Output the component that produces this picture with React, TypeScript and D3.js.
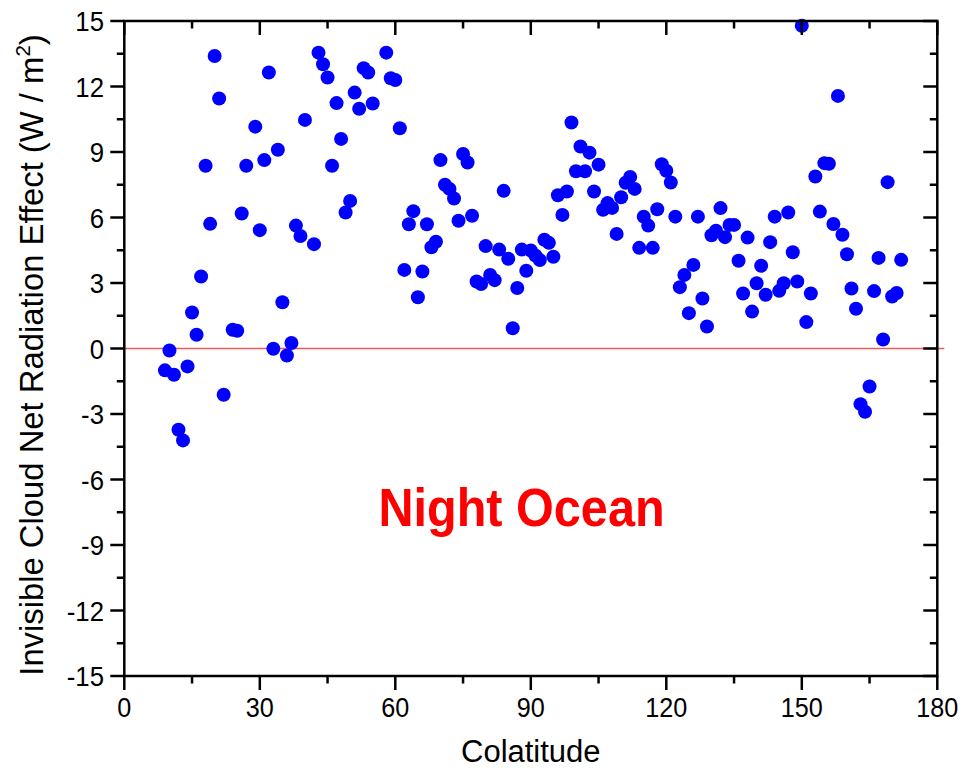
import React from "react";
import * as d3 from "d3";

// Colatitude (degrees) of each zonal band
const colatitude = [
  9, 10, 11, 12, 13, 14, 15, 16, 17, 18, 19, 20, 21, 22, 24, 25, 26, 27, 29, 30,
  31, 32, 33, 34, 35, 36, 37, 38, 39, 40, 42, 43, 44, 45, 46, 47, 48, 49, 50, 51,
  52, 53, 54, 55, 58, 59, 60, 61, 62, 63, 64, 65, 66, 67, 68, 69, 70, 71, 72, 73,
  74, 75, 76, 77, 78, 79, 80, 81, 82, 83, 84, 85, 86, 87, 88, 89, 90, 91, 92, 93,
  94, 95, 96, 97, 98, 99, 100, 101, 102, 103, 104, 105, 106, 107, 108, 109, 110,
  111, 112, 113, 114, 115, 116, 117, 118, 119, 120, 121, 122, 123, 124, 125, 126,
  127, 128, 129, 130, 131, 132, 133, 134, 135, 136, 137, 138, 139, 140, 141, 142,
  143, 144, 145, 146, 147, 148, 149, 150, 151, 152, 153, 154, 155, 156, 157, 158,
  159, 160, 161, 162, 163, 164, 165, 166, 167, 168, 169, 170, 171, 172,
];

// Invisible cloud net radiation effect (W / m^2) for each band
const netEffect = [
  -1.0, -0.09, -1.2, -3.72, -4.21, -0.82, 1.65, 0.63, 3.3, 8.37, 5.71, 13.4, 11.45, -2.12, 0.86, 0.81, 6.18, 8.37, 10.16, 5.42,
  8.63, 12.64, -0.01, 9.1, 2.12, -0.32, 0.25, 5.63, 5.15, 10.47, 4.78, 13.55, 13.02, 12.41, 8.37, 11.24, 9.6, 6.23, 6.76, 11.72,
  10.98, 12.84, 12.64, 11.22, 13.55, 12.38, 12.3, 10.09, 3.6, 5.69, 6.29, 2.35, 3.53, 5.69, 4.64, 4.89, 8.63, 7.5, 7.31, 6.87,
  5.85, 8.91, 8.52, 6.08, 3.07, 2.95, 4.69, 3.37, 3.13, 4.53, 7.22, 4.11, 0.93, 2.77, 4.53, 3.56, 4.49, 4.26, 4.05, 4.98,
  4.84, 4.2, 7.02, 6.12, 7.19, 10.35, 8.12, 9.25, 8.12, 8.97, 7.19, 8.42, 6.35, 6.66, 6.44, 5.25, 6.93,
  7.59, 7.86, 7.31, 4.61, 6.04, 5.63, 4.61, 6.38, 8.44, 8.14, 7.6, 6.04, 2.81, 3.37, 1.62, 3.83,
  6.04, 2.29, 1.01, 5.19, 5.39, 6.43, 5.1, 5.66, 5.66, 4.02, 2.52, 5.08, 1.69, 2.99, 3.79, 2.46,
  4.87, 6.04, 2.64, 2.99, 6.23, 4.41, 3.07, 14.78, 1.21, 2.52, 7.88, 6.27, 8.49, 8.46, 5.7, 11.57,
  5.21, 4.32, 2.75, 1.82, -2.55, -2.9, -1.74, 2.63, 4.15, 0.41, 7.62, 2.38, 2.54, 4.06,
];

const xTickValues = [0, 30, 60, 90, 120, 150, 180];
const xMinorValues = [15, 45, 75, 105, 135, 165];
const yTickValues = [-15, -12, -9, -6, -3, 0, 3, 6, 9, 12, 15];
const yMinorValues = [-13.5, -10.5, -7.5, -4.5, -1.5, 1.5, 4.5, 7.5, 10.5, 13.5];

const W = 964;
const H = 773;
const left = 124.3;
const right = 937.3;
const top = 21;
const bottom = 676;

const FONT = "Liberation Sans, Arial, Helvetica, sans-serif";

export default function App() {
  const x = d3.scaleLinear().domain([0, 180]).range([left, right]);
  const y = d3.scaleLinear().domain([-15, 15]).range([bottom, top]);

  const points = colatitude.map((c, i) => ({ c, v: netEffect[i] }));
  const major = 14;
  const minor = 7.5;
  const axisW = 2.5;

  return (
    <svg
      width={W}
      height={H}
      style={{ position: "absolute", left: 0, top: 0, background: "#fff" }}
      fontFamily={FONT}
    >
      <rect x={0} y={0} width={W} height={H} fill="#fff" />

      {/* zero reference line */}
      <line x1={left} x2={right + 7} y1={y(0)} y2={y(0)} stroke="#f25a5a" strokeWidth={1.6} />

      {/* data points */}
      {points.map((p, i) => (
        <circle key={i} cx={x(p.c)} cy={y(p.v)} r={7} fill="#0000ff" />
      ))}

      {/* frame */}
      <rect
        x={left}
        y={top}
        width={right - left}
        height={bottom - top}
        fill="none"
        stroke="#000"
        strokeWidth={axisW}
      />

      {/* x ticks: outward on bottom, inward on top */}
      {xTickValues.map((t) => (
        <g key={"xt" + t}>
          <line x1={x(t)} x2={x(t)} y1={bottom} y2={bottom + major} stroke="#000" strokeWidth={axisW} />
          <line x1={x(t)} x2={x(t)} y1={top} y2={top + major} stroke="#000" strokeWidth={axisW} />
          <text
            transform={`translate(${x(t)},${717}) scale(0.9,1)`}
            textAnchor="middle"
            fontSize={28}
            fill="#000"
          >
            {t}
          </text>
        </g>
      ))}
      {xMinorValues.map((t) => (
        <g key={"xm" + t}>
          <line x1={x(t)} x2={x(t)} y1={bottom} y2={bottom + minor} stroke="#000" strokeWidth={axisW} />
          <line x1={x(t)} x2={x(t)} y1={top} y2={top + minor} stroke="#000" strokeWidth={axisW} />
        </g>
      ))}

      {/* y ticks: outward on left, inward on right */}
      {yTickValues.map((t) => (
        <g key={"yt" + t}>
          <line x1={left - major} x2={left} y1={y(t)} y2={y(t)} stroke="#000" strokeWidth={axisW} />
          <line x1={right - major} x2={right} y1={y(t)} y2={y(t)} stroke="#000" strokeWidth={axisW} />
          <text
            transform={`translate(${104},${y(t) + 10}) scale(0.92,1)`}
            textAnchor="end"
            fontSize={28}
            fill="#000"
          >
            {t}
          </text>
        </g>
      ))}
      {yMinorValues.map((t) => (
        <g key={"ym" + t}>
          <line x1={left - minor} x2={left} y1={y(t)} y2={y(t)} stroke="#000" strokeWidth={axisW} />
          <line x1={right - minor} x2={right} y1={y(t)} y2={y(t)} stroke="#000" strokeWidth={axisW} />
        </g>
      ))}

      {/* axis titles */}
      <text x={(left + right) / 2} y={762} textAnchor="middle" fontSize={31} fill="#000">
        Colatitude
      </text>
      <text
        transform={`translate(43,${355}) rotate(-90)`}
        textAnchor="middle"
        fontSize={32.8}
        fill="#000"
      >
        Invisible Cloud Net Radiation Effect (W / m
        <tspan dy={-13} fontSize={20.5}>2</tspan>
        <tspan dy={13}>)</tspan>
      </text>

      {/* panel label */}
      <text
        transform={`translate(${521.5},${526}) scale(0.9,1)`}
        textAnchor="middle"
        fontSize={54}
        fontWeight="bold"
        fill="#ff0000"
      >
        Night Ocean
      </text>
    </svg>
  );
}
